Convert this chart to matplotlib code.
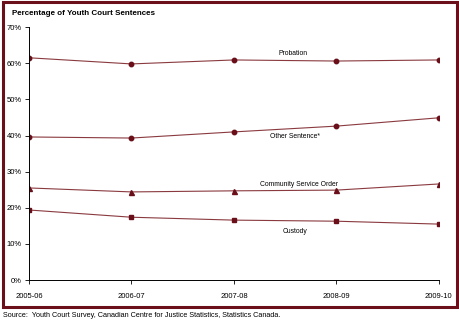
import matplotlib
matplotlib.use("Agg")
import matplotlib.pyplot as plt
from matplotlib.patches import Rectangle

plt.rcParams['font.family'] = ['Liberation Sans', 'DejaVu Sans']

years = ["2005-06", "2006-07", "2007-08", "2008-09", "2009-10"]
probation = [61.5, 59.8, 60.9, 60.6, 60.9]
other_sentence = [39.6, 39.3, 41.0, 42.6, 44.9]
community_service = [25.5, 24.4, 24.7, 24.9, 26.6]
custody = [19.4, 17.4, 16.6, 16.3, 15.5]
y_ticks = [0, 10, 20, 30, 40, 50, 60, 70]

line_color = "#8a3a3f"
marker_color = "#6a0f1a"
frame_color = "#6b0f1a"

fig = plt.figure(figsize=(4.6, 3.22), dpi=100)
ax = fig.add_axes([0.063, 0.130, 0.891, 0.786])

x = list(range(len(years)))
series = [
    (probation, "o", 3.2),
    (other_sentence, "o", 3.2),
    (community_service, "^", 3.6),
    (custody, "s", 3.0),
]
for vals, mk, ms in series:
    ax.plot(x, vals, color=line_color, linewidth=0.8, marker=mk,
            markersize=ms, markerfacecolor=marker_color,
            markeredgecolor=marker_color)

# series labels sit on the chart, not in a legend
lab = dict(fontsize=4.9, ha="center", va="center")
ax.text(2.58, 62.8, "Probation", **lab)
ax.text(2.6, 39.7, "Other Sentence*", **lab)
ax.text(2.64, 26.5, "Community Service Order", **lab)
ax.text(2.6, 13.5, "Custody", **lab)

ax.set_xlim(0, len(years) - 1)
ax.set_ylim(0, 70)
ax.set_xticks(x)
ax.set_xticklabels(years)
ax.set_yticks(y_ticks)
ax.set_yticklabels([f"{v}%" for v in y_ticks])
ax.tick_params(labelsize=5.5, length=3, width=0.6, color="black")
ax.tick_params(axis="y", pad=2)
ax.tick_params(axis="x", pad=6)
for side in ("top", "right"):
    ax.spines[side].set_visible(False)
for side in ("left", "bottom"):
    ax.spines[side].set_linewidth(0.7)

fig.text(0.026, 0.957, "Percentage of Youth Court Sentences", fontsize=5.8,
         fontweight="bold", va="center")
fig.text(0.006, 0.02, "Source:  Youth Court Survey, Canadian Centre for Justice Statistics, Statistics Canada.",
         fontsize=5.2, va="center")

fig.patches.append(Rectangle((0.006, 0.048), 0.988, 0.946, transform=fig.transFigure,
                             fill=False, edgecolor=frame_color, linewidth=2.2))

fig.savefig("out.png", dpi=100)
